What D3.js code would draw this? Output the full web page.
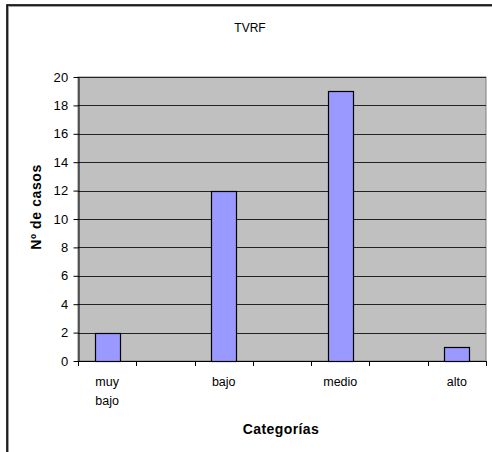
<!DOCTYPE html>
<html>
<head>
<meta charset="utf-8">
<script src="https://cdn.jsdelivr.net/npm/d3@7"></script>
<style>
  body { margin: 0; background: #fff; }
  svg { display: block; font-family: "Liberation Sans", Arial, sans-serif; }
</style>
</head>
<body>
<div id="chart"></div>
<script>
const categories = ["muy bajo", "", "bajo", "", "medio", "", "alto"];
const values = [2, null, 12, null, 19, null, 1];
const yTicks = [0, 2, 4, 6, 8, 10, 12, 14, 16, 18, 20];

const width = 492, height = 452;
const plot = { left: 78, top: 77, right: 486, bottom: 361 };

const svg = d3.select("#chart").append("svg")
    .attr("width", width)
    .attr("height", height);

// outer chart frame (with grey shadow)
svg.append("rect")
    .attr("x", 8).attr("y", 6)
    .attr("width", 500).attr("height", 460)
    .attr("fill", "none").attr("stroke", "#a0a0a0").attr("stroke-width", 2);
svg.append("rect")
    .attr("x", 7).attr("y", 5)
    .attr("width", 500).attr("height", 460)
    .attr("fill", "none").attr("stroke", "#000").attr("stroke-width", 1.6);

const x = d3.scaleBand()
    .domain(d3.range(categories.length))
    .range([plot.left, plot.right])
    .padding(0);

const y = d3.scaleLinear()
    .domain([0, 20])
    .range([plot.bottom, plot.top]);

// plot background
svg.append("rect")
    .attr("x", plot.left).attr("y", plot.top)
    .attr("width", plot.right - plot.left)
    .attr("height", plot.bottom - plot.top)
    .attr("fill", "#c0c0c0")
    .attr("stroke", "#808080");

// gridlines
svg.append("g").selectAll("line")
    .data(yTicks.filter(d => d > 0))
    .enter().append("line")
    .attr("x1", plot.left).attr("x2", plot.right)
    .attr("y1", d => Math.round(y(d)) + 0.5)
    .attr("y2", d => Math.round(y(d)) + 0.5)
    .attr("stroke", "#222");

// bars
const barW = x.bandwidth() * 0.43;
svg.append("g").selectAll("rect")
    .data(values.map((v, i) => ({ i, v })).filter(d => d.v != null))
    .enter().append("rect")
    .attr("x", d => Math.round(x(d.i) + (x.bandwidth() - barW) / 2) + 0.5)
    .attr("y", d => Math.round(y(d.v)) + 0.5)
    .attr("width", Math.round(barW))
    .attr("height", d => Math.round(y(0)) - Math.round(y(d.v)))
    .attr("fill", "#9999ff")
    .attr("stroke", "#000")
    .attr("stroke-width", 1.2);

// y axis
const yAxis = svg.append("g")
    .attr("transform", `translate(${plot.left + 0.5},0)`)
    .call(d3.axisLeft(y).tickValues(yTicks).tickSize(5).tickPadding(5).tickSizeOuter(0));
yAxis.select(".domain").attr("stroke", "#000");
yAxis.selectAll(".tick line").attr("stroke", "#000");
yAxis.selectAll("text").attr("font-size", 13).attr("fill", "#000")
    .style("font-family", "Liberation Sans, Arial, sans-serif")
    .style("letter-spacing", "0.3px");

// x axis: ticks at band boundaries
const xAxis = svg.append("g");
xAxis.append("line")
    .attr("x1", plot.left).attr("x2", plot.right)
    .attr("y1", plot.bottom + 0.5).attr("y2", plot.bottom + 0.5)
    .attr("stroke", "#000");
xAxis.selectAll(".xtick")
    .data(d3.range(categories.length + 1))
    .enter().append("line")
    .attr("class", "xtick")
    .attr("x1", d => Math.round(plot.left + d * x.step()) + 0.5)
    .attr("x2", d => Math.round(plot.left + d * x.step()) + 0.5)
    .attr("y1", plot.bottom).attr("y2", plot.bottom + 5)
    .attr("stroke", "#000");

// category labels (wrapped like the original)
const labels = xAxis.selectAll(".xlabel")
    .data(categories.map((c, i) => ({ c, i })).filter(d => d.c))
    .enter().append("text")
    .attr("class", "xlabel")
    .attr("text-anchor", "middle")
    .attr("font-size", 12.5)
    .attr("fill", "#000");
labels.each(function(d) {
    const lines = d.c === "muy bajo" ? ["muy", "bajo"] : [d.c];
    const t = d3.select(this);
    lines.forEach((ln, k) => {
        t.append("tspan")
            .attr("x", x(d.i) + x.bandwidth() / 2)
            .attr("y", 386 + k * 19)
            .text(ln);
    });
});

// titles
svg.append("text")
    .attr("x", 250).attr("y", 32)
    .attr("text-anchor", "middle")
    .attr("font-size", 12)
    .text("TVRF");

svg.append("text")
    .attr("transform", "translate(41,207) rotate(-90)")
    .attr("text-anchor", "middle")
    .attr("font-size", 14)
    .attr("font-weight", "bold")
    .style("letter-spacing", "0.6px")
    .text("Nº de casos");

svg.append("text")
    .attr("x", 281).attr("y", 434)
    .attr("text-anchor", "middle")
    .attr("font-size", 14)
    .attr("font-weight", "bold")
    .style("letter-spacing", "0.4px")
    .text("Categorías");
</script>
</body>
</html>
